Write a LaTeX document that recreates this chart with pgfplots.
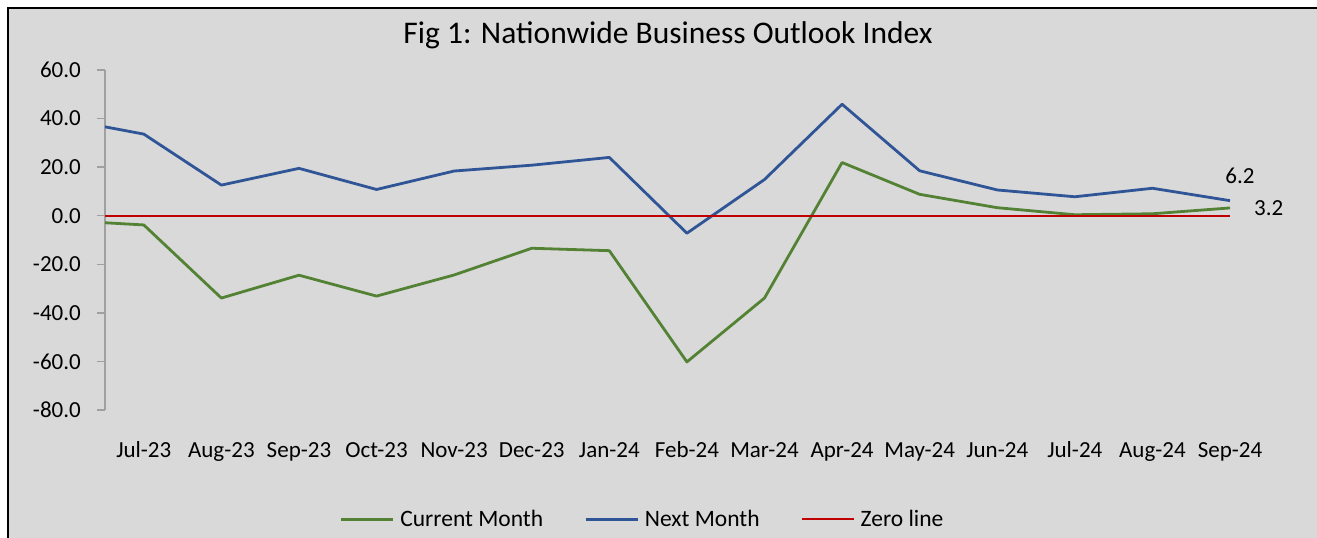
\documentclass[border=0pt]{standalone}
\usepackage{fontspec}
\setmainfont{Carlito}
\usepackage{pgfplots}
\pgfplotsset{compat=1.18}
\definecolor{bg}{HTML}{D9D9D9}
\definecolor{cgreen}{HTML}{548235}
\definecolor{cblue}{HTML}{2F5597}
\definecolor{cred}{HTML}{C00000}
\definecolor{axgray}{HTML}{A0A0A0}
\begin{document}
\begin{tikzpicture}
\path[use as bounding box] (0,0) rectangle (1317pt,538pt);
\fill[white] (0,0) rectangle (1317pt,538pt);
\filldraw[fill=bg, draw=black, line width=2pt] (8.3pt,-10pt) rectangle (1330pt,529.7pt);
\node[anchor=base, font=\fontsize{31.5}{36}\selectfont, inner sep=0pt] at (668pt,494pt) {Fig 1: Nationwide Business Outlook Index};
\begin{axis}[
  at={(105pt,128pt)}, anchor=south west,
  scale only axis, width=1125pt, height=340pt,
  xmin=0.5, xmax=15, ymin=-80, ymax=60,
  axis lines*=left,
  x axis line style={draw=none},
  y axis line style={draw=axgray, line width=1.3pt},
  xtick={1,...,15},
  xticklabels={Jul-23,Aug-23,Sep-23,Oct-23,Nov-23,Dec-23,Jan-24,Feb-24,Mar-24,Apr-24,May-24,Jun-24,Jul-24,Aug-24,Sep-24},
  xtick style={draw=none},
  major tick length=8pt,
  ytick={-80,-60,...,60},
  ytick style={draw=axgray, line width=1.3pt},
  tick align=outside,
  yticklabel style={font=\fontsize{23}{27}\selectfont, anchor=east, inner sep=0pt, xshift=-16pt,
    /pgf/number format/fixed, /pgf/number format/fixed zerofill, /pgf/number format/precision=1,
    /pgf/number format/assume math mode=true},
  xticklabel style={font=\fontsize{23}{27}\selectfont, anchor=base, inner sep=0pt, yshift=-39pt},
  legend style={at={(0.2083,-0.3215)}, anchor=west, draw=none, fill=none, inner sep=0pt,
    legend columns=3, font=\fontsize{23.5}{27}\selectfont,
    /tikz/every odd column/.style={column sep=6pt},
    /tikz/every even column/.style={column sep=41pt},
    nodes={inner sep=0pt, anchor=west}},
  legend image code/.code={\draw[#1] (0pt,0pt) -- (52pt,0pt);},
  clip=false,
]
\addplot[cgreen, line width=2.8pt, line join=round] coordinates {
(0.5,-2.9) (1,-3.8) (2,-33.9) (3,-24.5) (4,-33.1) (5,-24.4) (6,-13.4) (7,-14.4)
(8,-60.2) (9,-33.9) (10,21.9) (11,8.8) (12,3.3) (13,0.4) (14,0.8) (15,3.2)};
\addlegendentry{Current Month}
\addplot[cblue, line width=2.8pt, line join=round] coordinates {
(0.5,36.6) (1,33.6) (2,12.6) (3,19.5) (4,10.8) (5,18.4) (6,20.8) (7,24.0)
(8,-7.2) (9,14.9) (10,45.9) (11,18.5) (12,10.6) (13,7.8) (14,11.3) (15,6.2)};
\addlegendentry{Next Month}
\addplot[cred, line width=2pt] coordinates {(0.5,0) (15,0)};
\addlegendentry{Zero line}
\node[font=\fontsize{23}{27}\selectfont, inner sep=0pt] at (axis cs:15,6.2) [xshift=10pt, yshift=25pt] {6.2};
\node[font=\fontsize{23}{27}\selectfont, inner sep=0pt, anchor=west] at (axis cs:15,3.2) [xshift=24pt, yshift=0pt] {3.2};
\end{axis}
\end{tikzpicture}
\end{document}
